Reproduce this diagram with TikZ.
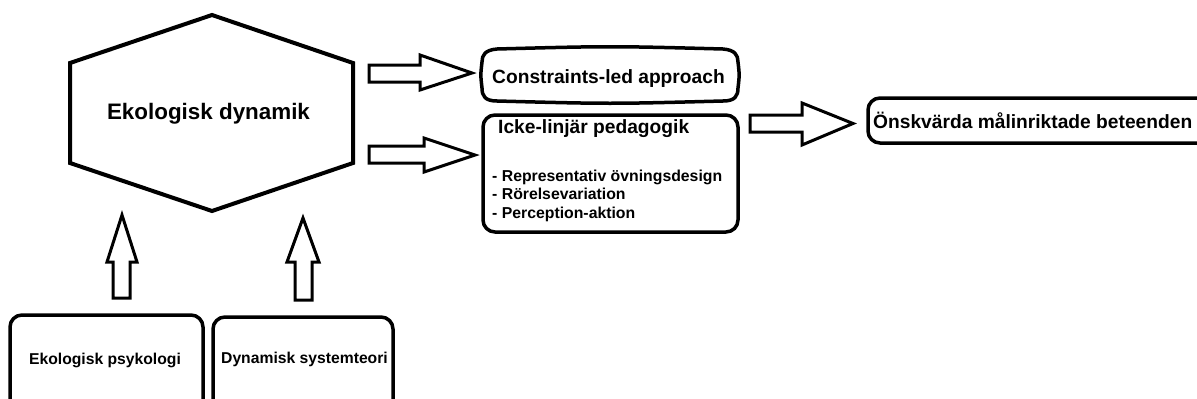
\documentclass[tikz,border=0pt]{standalone}
\usepackage{fontspec}
\setmainfont{Liberation Sans}
\begin{document}
\begin{tikzpicture}[x=1pt,y=-1pt,
  boxshape/.style={draw, line width=3.5pt, rounded corners=12pt, inner sep=0pt},
  blockarrow/.style={draw, line width=3pt, fill=white, line join=miter},
  hexline/.style={draw, line width=4pt, line join=miter},
  txt/.style={inner sep=0pt, anchor=base west, font=\bfseries\fontsize{19.2}{22}\selectfont},
  bigtxt/.style={inner sep=0pt, anchor=base, font=\bfseries\fontsize{22.4}{26}\selectfont},
  listtxt/.style={inner sep=0pt, anchor=base west, font=\bfseries\fontsize{15.8}{19}\selectfont},
  smalltxt/.style={inner sep=0pt, anchor=base, font=\bfseries\fontsize{15.7}{18}\selectfont}]
\useasboundingbox (0,0) rectangle (1197,399);
\fill[white] (0,0) rectangle (1197,399);
\clip (0,0) rectangle (1197,399);

% hexagon
\draw[hexline] (212,15) -- (353,63) -- (353,163) -- (212,211) -- (70,163) -- (70,63) -- cycle;
\node[bigtxt] (hex) at (208.5,119) {Ekologisk dynamik};

% constraints-led box (slightly bulging sides)
\node[inner sep=0pt, minimum width=254pt, minimum height=54pt] (cla) at (610,75) {};
\draw[line width=3.5pt] (497,49) .. controls (610,46) .. (723,49)
  .. controls (735,50) and (738,55) .. (738,62) .. controls (739.5,75) .. (738,88)
  .. controls (738,96) and (735,101) .. (723,101) .. controls (610,104) .. (497,101)
  .. controls (485,101) and (482,96) .. (482,88) .. controls (480.5,75) .. (482,62)
  .. controls (482,55) and (485,50) .. (497,49) -- cycle;
\node[txt] (clat) at (492,83) {Constraints-led approach};

\node[boxshape, minimum width=255pt, minimum height=117pt] (nlp) at (610.5,173.5) {};
\node[txt] (nlpt) at (498,133) {Icke-linjär pedagogik};
\node[listtxt] (l1) at (492,181) {- Representativ övningsdesign};
\node[listtxt] (l2) at (492,199.5) {- Rörelsevariation};
\node[listtxt] (l3) at (492,218) {- Perception-aktion};

\node[boxshape, minimum width=350pt, minimum height=45pt] (goal) at (1043,120.5) {};
\node[txt] (goalt) at (873,128.5) {Önskvärda målinriktade beteenden};

\node[boxshape, minimum width=193pt, minimum height=110pt] (eps) at (106.5,370) {};
\node[smalltxt] (epst) at (105,364) {Ekologisk psykologi};
\node[boxshape, minimum width=180pt, minimum height=110pt] (dst) at (303,372) {};
\node[smalltxt] (dstt) at (304.5,363) {Dynamisk systemteori};

% block arrows right
\draw[blockarrow] (369,65) -- (420,65) -- (420,55) -- (472,73) -- (420,90) -- (420,82) -- (369,82) -- cycle;
\draw[blockarrow] (369,146) -- (424,146) -- (424,138) -- (475,155) -- (424,172) -- (424,163) -- (369,163) -- cycle;
\draw[blockarrow] (750,115) -- (802,115) -- (802,103) -- (853,123.5) -- (802,145) -- (802,132) -- (750,132) -- cycle;

% block arrows up
\draw[blockarrow] (113,298) -- (113,262) -- (107,262) -- (122,215) -- (137,262) -- (130,262) -- (130,298) -- cycle;
\draw[blockarrow] (295,300) -- (295,262) -- (287,262) -- (303,218) -- (319,262) -- (312,262) -- (312,300) -- cycle;
\end{tikzpicture}
\end{document}
